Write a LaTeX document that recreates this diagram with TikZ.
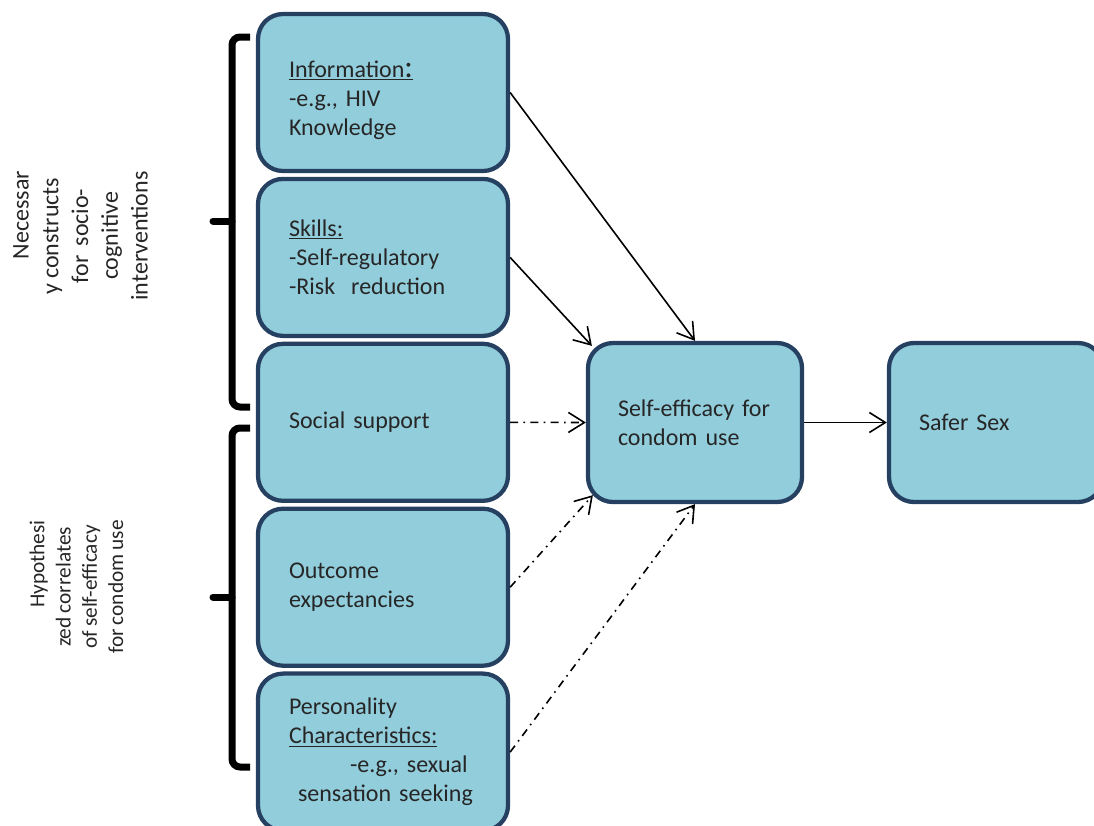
\documentclass[tikz,border=0pt]{standalone}
\usepackage{fontspec}
\setmainfont{Carlito}[WordSpace=0.85]
\usetikzlibrary{arrows.meta,calc}
\definecolor{boxfill}{HTML}{92CDDC}
\definecolor{boxline}{HTML}{254061}
\definecolor{txt}{HTML}{262626}

\begin{document}
\begin{tikzpicture}[
  x=0.75pt, y=0.75pt,
  construct/.style={
      draw=boxline,
      fill=boxfill,
      line width=3.2pt,
      rounded corners=18.75pt,
      minimum width=187.5pt,
      minimum height=117.75pt,
      text width=141pt,
      align=left,
      text=txt,
      font=\fontsize{18}{21.75}\selectfont
    },
  target box/.style={
      construct,
      minimum width=160.5pt,
      minimum height=119.25pt,
      text width=115.5pt
    },
  path arrow/.style={
      arrows = {-Straight Barb[length=12pt,width=15pt]},
      line width=1.2pt
    },
  weak arrow/.style={
      path arrow,
      dash pattern=on 6pt off 4pt on 1.2pt off 4pt
    },
  bracket/.style={
      line width=5.25pt,
      rounded corners=6pt
    },
  side label/.style={
      rotate=90,
      align=center,
      text=txt
    }]

  \useasboundingbox (0,0) rectangle (1094,-825);

  % left column
  \node [construct] (info) at (383,-92.5) {\rule{0pt}{24pt}\underline{Information{\fontsize{24}{20}\selectfont:}}\\-e.g., HIV\\Knowledge};
  \node [construct] (skills) at ($(info)+(0,-164.9)$) {\underline{Skills:}\\-Self-regulatory\\-Risk~~reduction};
  \node [construct] (social) at ($(skills)+(0,-164.9)$) {Social support};
  \node [construct] (outcome) at ($(social)+(0,-164.9)$) {Outcome\\expectancies};
  \node [construct] (personality) at ($(outcome)+(0,-164.9)$) {Personality\\\underline{Characteristics:}\\\hspace*{45.75pt}-e.g., sexual\\\hspace*{6.75pt}sensation seeking};

  \node [target box] (se) at (695,-422.5) {Self-efficacy~for\\condom use};
  \node [target box] (safer) at (996,-422.5) {Safer Sex};

  % groups on the left
  \draw [bracket] (250,-37) -- (232,-37) -- (232,-407) -- (250,-407);
  \draw [bracket, line cap=round] (232,-221) -- (213,-221);
  \draw [bracket] (250,-428) -- (232,-428) -- (232,-767) -- (250,-767);
  \draw [bracket, line cap=round] (232,-597) -- (213,-597);

  \node [side label, font=\fontsize{18}{22.3}\selectfont] (necessary) at (80.5,-236) {\hspace*{31.5pt}Necessar\\y constructs\\for~~socio-\\cognitive\\interventions};
  \node [side label, font=\fontsize{16}{19.7}\selectfont] (hypothesized) at (76.5,-587) {\hspace*{34.5pt}Hypothesi\\zed correlates\\of self-efficacy\\for condom use};

  \draw [path arrow] (info.east) -- (se.north);
  \draw [path arrow] (skills.east) -- ($(se.north west)+(6,-5)$);
  \draw [weak arrow] (social.east) -- (se.west);
  \draw [weak arrow] (outcome.east) -- ($(se.south west)+(7,9)$);
  \draw [weak arrow] (personality.east) -- (se.south);
  \draw [path arrow] (se.east) -- (safer.west);
\end{tikzpicture}
\end{document}
